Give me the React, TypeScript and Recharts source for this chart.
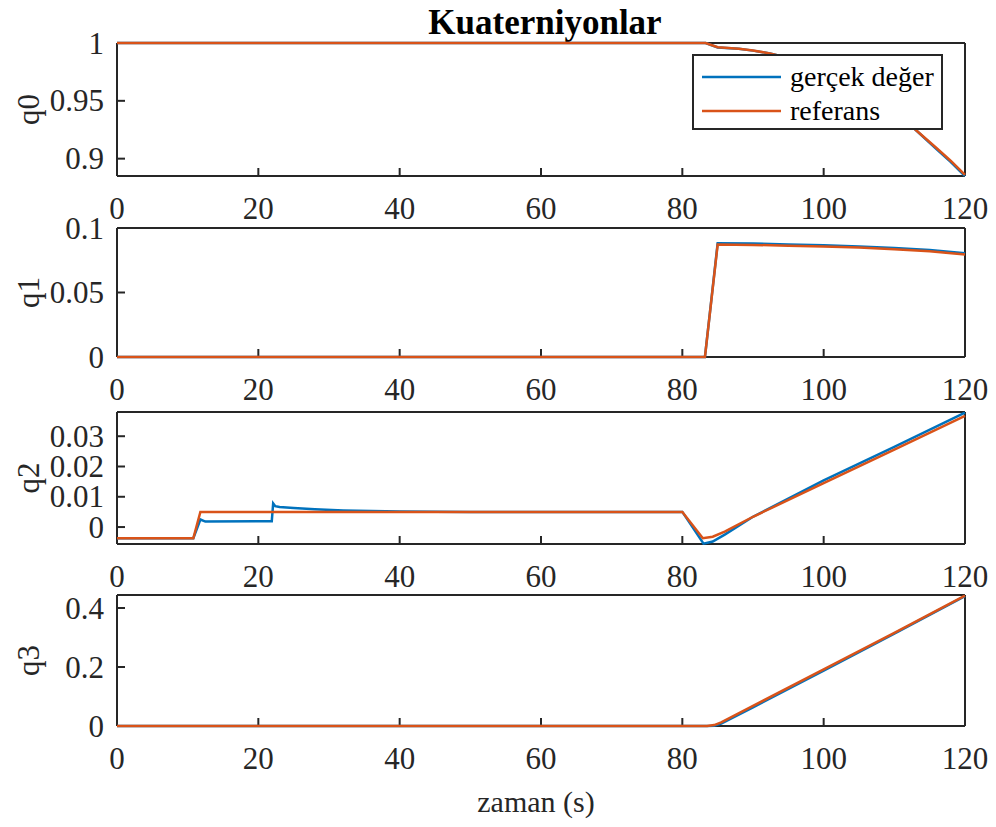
import { LineChart, Line, XAxis, YAxis, Legend } from "recharts";

const timeTicks = [0, 20, 40, 60, 80, 100, 120];

// q0
const q0Time = [0, 83.3, 85, 88, 90, 92.4, 95, 100, 105, 110, 113, 116, 118, 120];
const q0Gercek = [1, 1, 0.9962, 0.995, 0.9934, 0.991, 0.987, 0.976, 0.96, 0.941, 0.925, 0.908, 0.897, 0.885];
const q0Referans = [1, 1, 0.9963, 0.995, 0.9935, 0.991, 0.987, 0.976, 0.96, 0.941, 0.925, 0.909, 0.898, 0.886];
const q0Ticks = [0.9, 0.95, 1];

// q1
const q1Time = [0, 83.2, 85, 90, 95, 100, 105, 110, 115, 120];
const q1Gercek = [0, 0, 0.0882, 0.0879, 0.0873, 0.0866, 0.0857, 0.0845, 0.083, 0.0805];
const q1Referans = [0, 0, 0.0872, 0.0869, 0.0863, 0.0857, 0.0848, 0.0835, 0.082, 0.0795];
const q1Ticks = [0, 0.05, 0.1];

// q2
const q2GercekTime = [0, 10.8, 11.8, 12.5, 21.9, 22.1, 22.4, 23, 25, 28, 32, 36, 40, 50, 80, 83, 84.3, 86, 90, 100, 110, 120];
const q2Gercek = [-0.0037, -0.0037, 0.0025, 0.0018, 0.0019, 0.0078, 0.0069, 0.0066, 0.0063, 0.0059, 0.0055, 0.0053, 0.0051, 0.005, 0.005, -0.0055, -0.0048, -0.0025, 0.0034, 0.0154, 0.0265, 0.0378];
const q2ReferansTime = [0, 10.8, 11.8, 80, 82.9, 84.3, 86, 90, 100, 110, 120];
const q2Referans = [-0.0037, -0.0037, 0.005, 0.005, -0.0037, -0.0032, -0.0015, 0.0034, 0.0145, 0.0256, 0.0367];
const q2Ticks = [0, 0.01, 0.02, 0.03];

// q3
const q3Time = [0, 83.5, 84.5, 85.5, 90, 100, 110, 120];
const q3Gercek = [0, 0, 0.001, 0.008, 0.063, 0.188, 0.313, 0.44];
const q3Referans = [0, 0, 0.003, 0.012, 0.068, 0.192, 0.316, 0.442];
const q3Ticks = [0, 0.2, 0.4];

const BLUE = "#0072BD";
const ORANGE = "#D95319";
const AXIS = "#262626";
const FONT = "Liberation Serif";
const FS = 31;

const pts = (t: number[], v: number[]) => t.map((x, i) => ({ t: x, v: v[i] }));

const axisLineStyle = { stroke: AXIS, strokeWidth: 2 };
const noLabel = () => <g />;

// tick labels drawn as plain svg text so the serif font is used
const XTick = (p: any) => (
  <text x={p.x} y={p.y} dy={FS * 0.71} textAnchor="middle" fill={AXIS} fontSize={FS} style={{ fontFamily: FONT }}>
    {p.payload.value}
  </text>
);
const YTick = (p: any) => (
  <text x={p.x} y={p.y} dy={FS * 0.34} textAnchor="end" fill={AXIS} fontSize={FS} style={{ fontFamily: FONT }}>
    {p.payload.value}
  </text>
);

const renderLegend = (props: any) => {
  const { payload } = props;
  return (
    <div
      style={{
        border: `2px solid ${AXIS}`,
        background: "#fff",
        width: 251,
        height: 76,
        boxSizing: "border-box",
        paddingTop: 4,
        fontFamily: FONT,
        fontSize: 28,
        color: "#000",
        whiteSpace: "nowrap",
      }}
    >
      {(payload || []).map((e: any) => (
        <div key={e.value} style={{ display: "flex", alignItems: "center", height: 34 }}>
          <svg width={88} height={6} style={{ marginLeft: 8, flex: "none" }}>
            <line x1={0} y1={3} x2={79} y2={3} stroke={e.color} strokeWidth={2.5} />
          </svg>
          <span style={{ lineHeight: "34px" }}>{e.value}</span>
        </div>
      ))}
    </div>
  );
};

type PanelProps = {
  top: number;
  height: number;
  label: string;
  gercek: { t: number; v: number }[];
  referans: { t: number; v: number }[];
  domain: [number, number];
  ticks: number[];
  legend?: boolean;
  xLabel?: string;
};

function Panel({ top, height, label, gercek, referans, domain, ticks, legend, xLabel }: PanelProps) {
  const axisH = xLabel ? 100 : 50;
  const mid = 10 + height / 2;
  return (
    <div style={{ position: "absolute", left: 0, top: top - 10 }}>
      <LineChart width={996} height={10 + height + axisH} margin={{ top: 9, right: 30, bottom: 0, left: 0 }}>
        <XAxis
          dataKey="t"
          type="number"
          domain={[0, 120]}
          ticks={timeTicks}
          interval={0}
          height={axisH}
          tickSize={-8}
          tickMargin={29}
          tick={XTick}
          axisLine={axisLineStyle}
          tickLine={axisLineStyle}
          label={
            xLabel
              ? {
                  content: () => (
                    <text x={536} y={10 + height + 86} textAnchor="middle" fill={AXIS} fontSize={30} style={{ fontFamily: FONT }}>
                      {xLabel}
                    </text>
                  ),
                }
              : undefined
          }
        />
        <XAxis
          xAxisId="top"
          orientation="top"
          type="number"
          domain={[0, 120]}
          ticks={timeTicks}
          interval={0}
          height={1}
          tickSize={-8}
          tick={noLabel}
          axisLine={axisLineStyle}
          tickLine={axisLineStyle}
        />
        <YAxis
          type="number"
          domain={domain}
          ticks={ticks}
          interval={0}
          width={117}
          tickSize={-8}
          tickMargin={21}
          tick={YTick}
          axisLine={axisLineStyle}
          tickLine={axisLineStyle}
          label={{
            content: () => (
              <text
                x={28}
                y={mid}
                transform={`rotate(-90 28 ${mid})`}
                dy={FS * 0.34}
                textAnchor="middle"
                fill={AXIS}
                fontSize={FS}
                style={{ fontFamily: FONT }}
              >
                {label}
              </text>
            ),
          }}
        />
        <YAxis
          yAxisId="right"
          orientation="right"
          type="number"
          domain={domain}
          ticks={ticks}
          interval={0}
          width={1}
          tickSize={-8}
          tick={noLabel}
          axisLine={axisLineStyle}
          tickLine={axisLineStyle}
        />
        {legend && (
          <Legend
            layout="vertical"
            align="center"
            verticalAlign="middle"
            content={renderLegend}
            wrapperStyle={{ left: 692, top: 21, width: 251 }}
          />
        )}
        <Line
          data={gercek}
          dataKey="v"
          name="gerçek değer"
          type="linear"
          stroke={BLUE}
          strokeWidth={2.5}
          dot={false}
          activeDot={false}
          isAnimationActive={false}
          {...({ zIndex: 700 } as any)}
        />
        <Line
          data={referans}
          dataKey="v"
          name="referans"
          type="linear"
          stroke={ORANGE}
          strokeWidth={2.5}
          dot={false}
          activeDot={false}
          isAnimationActive={false}
          {...({ zIndex: 701 } as any)}
        />
      </LineChart>
    </div>
  );
}

export default function App() {
  return (
    <div
      style={{
        position: "absolute",
        left: 0,
        top: 0,
        width: 996,
        height: 827,
        background: "#fff",
        fontFamily: FONT,
        overflow: "hidden",
      }}
    >
      <div
        style={{
          position: "absolute",
          left: 0,
          top: 5,
          width: 1090,
          textAlign: "center",
          fontSize: 35,
          lineHeight: "35px",
          fontWeight: "bold",
          color: "#000",
        }}
      >
        Kuaterniyonlar
      </div>
      <Panel top={43} height={133} label="q0" gercek={pts(q0Time, q0Gercek)} referans={pts(q0Time, q0Referans)} domain={[0.885, 1]} ticks={q0Ticks} legend />
      <Panel top={228} height={129} label="q1" gercek={pts(q1Time, q1Gercek)} referans={pts(q1Time, q1Referans)} domain={[0, 0.1]} ticks={q1Ticks} />
      <Panel top={412} height={132} label="q2" gercek={pts(q2GercekTime, q2Gercek)} referans={pts(q2ReferansTime, q2Referans)} domain={[-0.0056, 0.038]} ticks={q2Ticks} />
      <Panel top={595} height={131} label="q3" gercek={pts(q3Time, q3Gercek)} referans={pts(q3Time, q3Referans)} domain={[0, 0.444]} ticks={q3Ticks} xLabel="zaman (s)" />
    </div>
  );
}
